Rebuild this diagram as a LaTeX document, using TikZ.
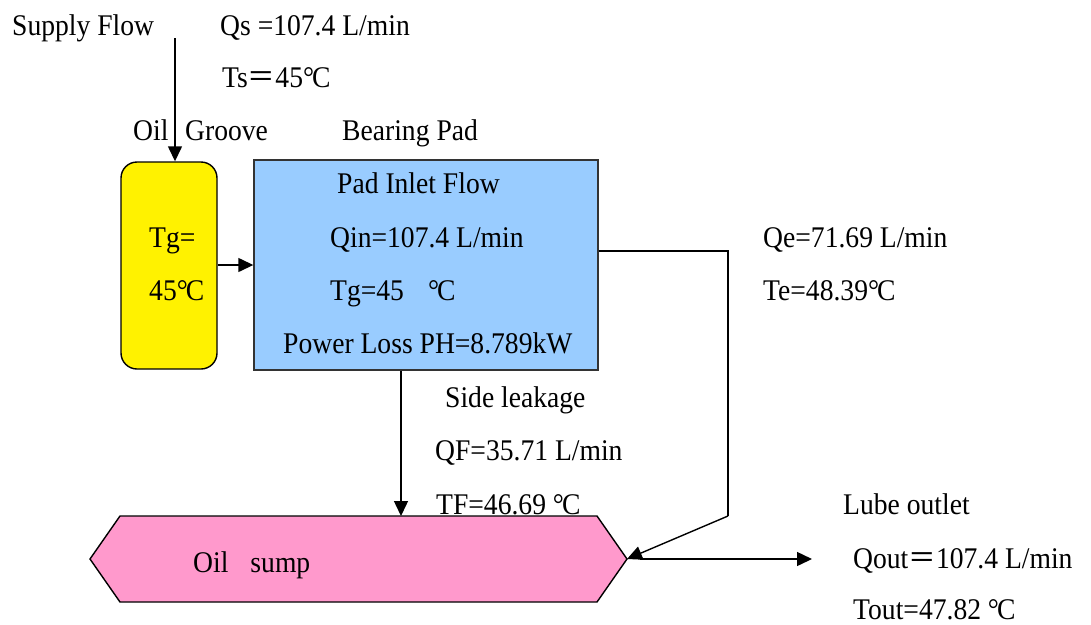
\documentclass[tikz,border=0pt]{standalone}
\usepackage{fontspec}
\setmainfont{Liberation Serif}[FakeStretch=0.92]
\newfontfamily\cjk{Noto Sans CJK SC}[FakeStretch=0.92]
\usetikzlibrary{arrows.meta}
\newcommand{\dgc}{°\kern-2pt C}
\newcommand{\feq}{{\cjk ＝}}
\definecolor{padblue}{HTML}{99CCFF}
\definecolor{sumppink}{HTML}{FF99CC}
\begin{document}
\begin{tikzpicture}[x=1pt,y=-1pt,
  lbl/.style={anchor=base west, inner sep=0pt, font=\fontsize{30}{36}\selectfont},
  flow/.style={line width=1.4pt, -{Triangle[length=15pt,width=14pt]}},
  wire/.style={line width=1.4pt},
  groovebox/.style={draw=black, line width=1.4pt, fill=yellow, rounded corners=16pt,
     minimum width=96pt, minimum height=207pt, inner sep=0pt},
  padbox/.style={draw=black!80, line width=1.4pt, fill=padblue,
     minimum width=344pt, minimum height=210pt, inner sep=0pt},
  sumpshape/.style={draw=black, line width=1.4pt, fill=sumppink}]
\useasboundingbox (0,0) rectangle (1091,624);

% boxes
\node[groovebox] (g) at (169,265.5) {};
\node[padbox] (p) at (426,265) {};

% side leakage labels (drawn before sump so the sump overlaps them)
\node[lbl] (sl) at (445,407) {Side leakage};
\node[lbl] (qf) at (435,460) {QF=35.71 L/min};
\node[lbl] (tf) at (436,514) {TF=46.69 \dgc};

% oil sump hexagon
\coordinate (sW) at (90,559);
\coordinate (sNW) at (120,516);
\coordinate (sNE) at (597,516);
\coordinate (sE) at (627,559);
\coordinate (sSE) at (597,602);
\coordinate (sSW) at (120,602);
\draw[sumpshape] (sW) -- (sNW) -- (sNE) -- (sE) -- (sSE) -- (sSW) -- cycle;
\node[lbl] (sumpl) at (193,572) {Oil\hspace{22pt}sump};

% top labels
\node[lbl] (sf) at (12,35) {Supply Flow};
\node[lbl] (qs) at (220,35) {Qs =107.4 L/min};
\node[lbl] (ts) at (222,87) {Ts\feq 45\dgc};
\node[lbl] (oil) at (133,140) {Oil};
\node[lbl] (grv) at (185,140) {Groove};
\node[lbl] (bp) at (342,140) {Bearing\hspace{7pt}Pad};

% groove text
\node[lbl] (tg1) at (149,247) {Tg=};
\node[lbl] (tg2) at (149,300) {45\dgc};

% pad texts
\node[lbl] (pi) at (337,193) {Pad Inlet Flow};
\node[lbl] (qin) at (330,247) {Qin=107.4 L/min};
\node[lbl] (tgp) at (330,300) {Tg=45\hspace{24pt}\dgc};
\node[lbl] (pl) at (283,353) {Power Loss PH=8.789kW};

% exit labels
\node[lbl] (qe) at (763,247) {Qe=71.69 L/min};
\node[lbl] (te) at (763,300) {Te=48.39\dgc};

% outlet labels
\node[lbl] (lo) at (843,514) {Lube outlet};
\node[lbl] (qo) at (853,568) {Qout\feq 107.4 L/min};
\node[lbl] (to) at (853,619) {Tout=47.82 \dgc};

% connectors
\coordinate (sup) at (175,38);
\draw[flow] (sup) -- (sup |- g.north);
\draw[flow] (g.east |- 0,265) -- (p.west |- 0,265);
\coordinate (leak) at (401,0);
\draw[flow] (p.south -| leak) -- (sNE -| leak);
\coordinate (bend) at (728,516);
\draw[wire] ([yshift=14pt]p.east) -| (bend);
\draw[flow] (bend) -- (sE);
\coordinate (out) at (812,559);
\draw[flow] ([xshift=13pt]sE) -- (out);
\end{tikzpicture}
\end{document}
